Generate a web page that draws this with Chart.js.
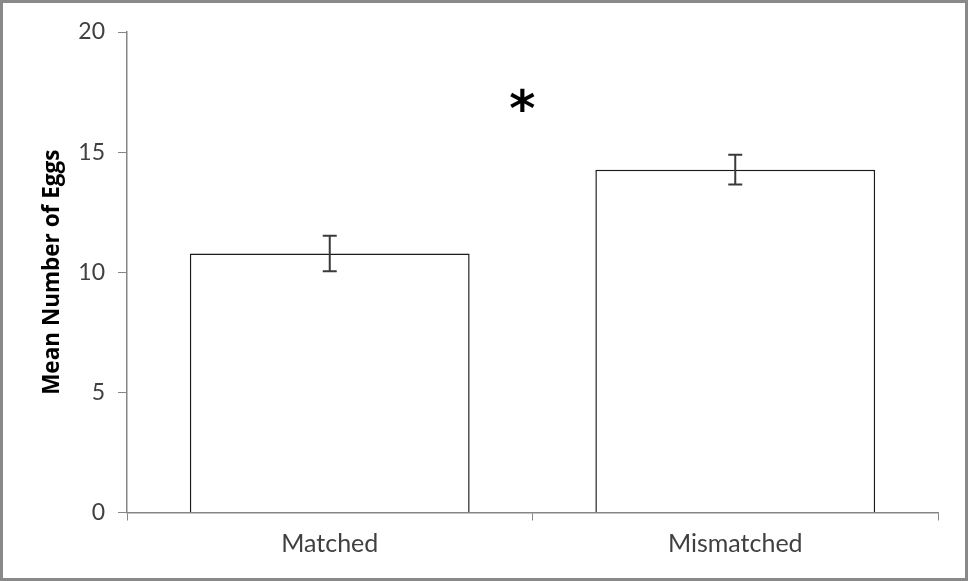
<!DOCTYPE html>
<html><head><meta charset="utf-8">
<script src="https://cdn.jsdelivr.net/npm/chart.js@4"></script>
<style>
html,body{margin:0;padding:0;background:#fff}
#wrap{width:968px;height:581px;box-sizing:border-box;border:3px solid #898989;background:#fff}
canvas{display:block}
</style></head><body>
<div id="wrap"><canvas id="c" width="962" height="575"></canvas></div>
<script>
const categories = ['Matched', 'Mismatched'];
const meanEggs = [10.78, 14.27];
const errEggs = [0.74, 0.62];
const yTicks = [0, 5, 10, 15, 20];
const yTitle = 'Mean Number of Eggs';
const sigMarker = { x: 0.475, y: 17.15, text: '*' };

const axisColor = '#868686';
const labelColor = '#404040';
const fontFamily = 'Lato, "Open Sans", sans-serif';

const errorBarPlugin = {
  id: 'errorBars',
  afterDatasetsDraw(chart) {
    const ctx = chart.ctx;
    const xs = chart.scales.x, ys = chart.scales.y;
    ctx.save();
    ctx.strokeStyle = '#3a3a3a';
    ctx.lineWidth = 2;
    meanEggs.forEach((m, i) => {
      const x = xs.getPixelForValue(i);
      const yT = ys.getPixelForValue(m + errEggs[i]);
      const yB = ys.getPixelForValue(m - errEggs[i]);
      const cap = 7;
      ctx.beginPath();
      ctx.moveTo(x, yT); ctx.lineTo(x, yB);
      ctx.moveTo(x - cap, yT); ctx.lineTo(x + cap, yT);
      ctx.moveTo(x - cap, yB); ctx.lineTo(x + cap, yB);
      ctx.stroke();
    });
    ctx.restore();
  }
};

const sigPlugin = {
  id: 'sigMarker',
  afterDatasetsDraw(chart) {
    const ctx = chart.ctx;
    const xs = chart.scales.x, ys = chart.scales.y;
    const x = xs.getPixelForValue(sigMarker.x);
    const y = ys.getPixelForValue(sigMarker.y);
    ctx.save();
    ctx.fillStyle = '#000';
    ctx.font = 'bold 50px "DejaVu Sans", sans-serif';
    ctx.textAlign = 'center';
    ctx.textBaseline = 'alphabetic';
    const m = ctx.measureText(sigMarker.text);
    ctx.fillText(sigMarker.text, x, y + (m.actualBoundingBoxAscent - m.actualBoundingBoxDescent) / 2);
    ctx.restore();
  }
};

new Chart(document.getElementById('c'), {
  type: 'bar',
  data: {
    labels: categories,
    datasets: [{
      data: meanEggs,
      backgroundColor: '#ffffff',
      borderColor: '#1a1a1a',
      borderWidth: 1.5,
      barPercentage: 0.69,
      categoryPercentage: 1.0
    }]
  },
  options: {
    responsive: false,
    devicePixelRatio: 1,
    animation: false,
    layout: { padding: { top: 29, right: 27, left: 0, bottom: 0 } },
    plugins: { legend: { display: false }, tooltip: { enabled: false } },
    scales: {
      x: {
        grid: { drawOnChartArea: false, drawTicks: true, tickLength: 8, color: axisColor, offset: true },
        border: { color: axisColor, width: 1.5 },
        ticks: { color: labelColor, font: { family: fontFamily, size: 25 }, padding: 8, maxRotation: 0 },
        afterFit(s) { s.height = 65.5; }
      },
      y: {
        min: 0, max: 20,
        afterBuildTicks(s) { s.ticks = yTicks.map(v => ({ value: v })); },
        grid: { drawOnChartArea: false, drawTicks: true, tickLength: 9, color: axisColor },
        border: { color: axisColor, width: 1.5 },
        ticks: { color: labelColor, font: { family: fontFamily, size: 23 }, padding: 13 },
        title: { display: true, text: yTitle, color: '#000', font: { family: '"Open Sans", sans-serif', size: 22.5, weight: 'bold' }, padding: { top: 36, bottom: 0 } },
        afterFit(s) { s.width = 124; }
      }
    }
  },
  plugins: [errorBarPlugin, sigPlugin]
});
</script>
</body></html>
